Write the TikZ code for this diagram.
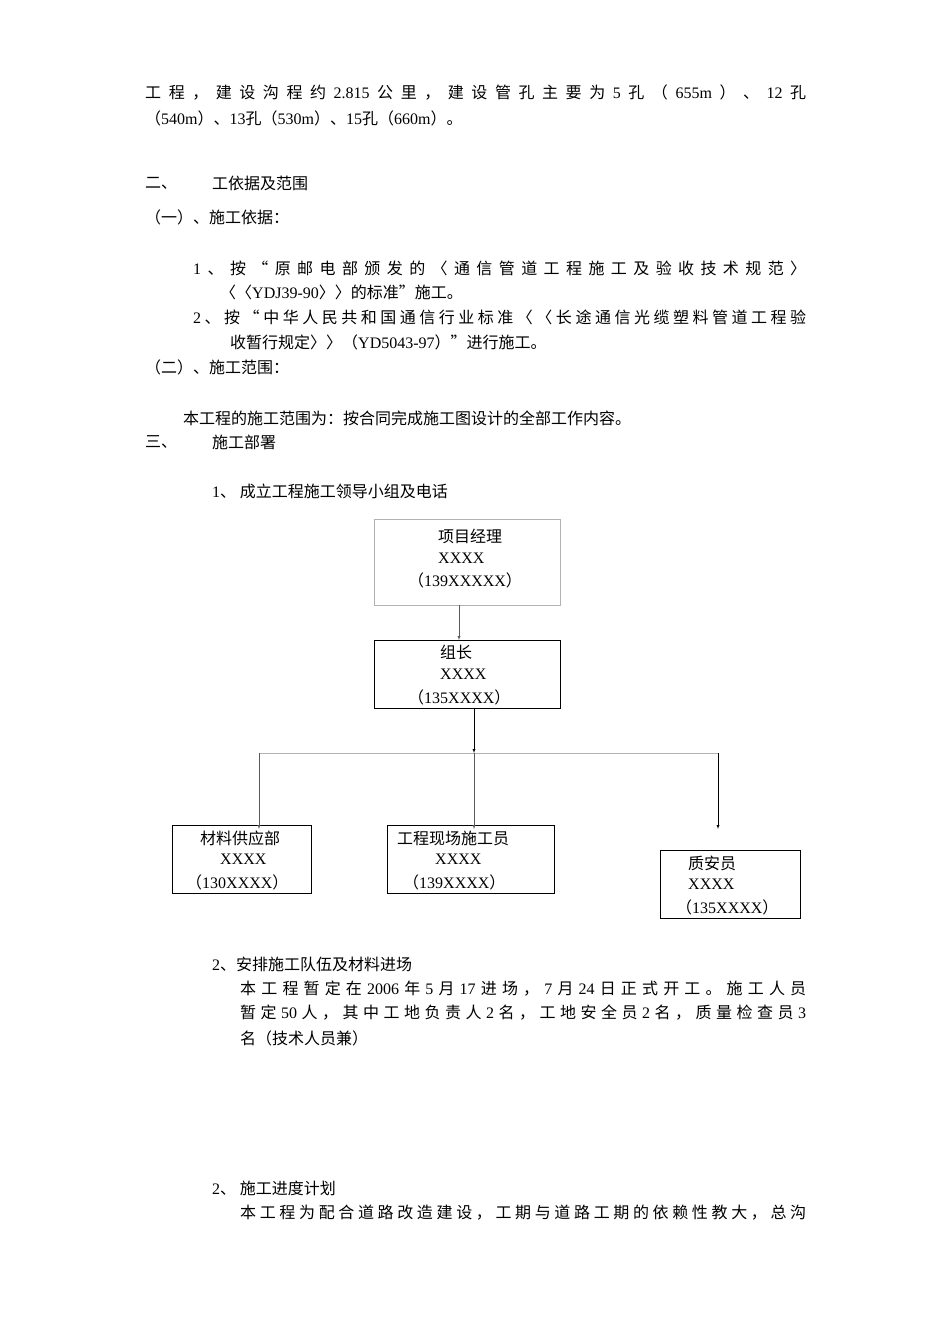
\documentclass[tikz,border=0pt]{standalone}
\usepackage{fontspec}
\setmainfont{Noto Sans CJK SC}
\newfontfamily\lat{Liberation Serif}
\ExplSyntaxOn
\NewDocumentCommand\spreadtext{mm}{\makebox[#1][s]{\tl_map_inline:nn{#2}{{##1}\hfil}\unskip}}
\ExplSyntaxOff
\begin{document}
\begin{tikzpicture}[x=1pt,y=-1pt,
  t/.style={anchor=west,inner sep=0pt,font=\fontsize{16}{18}\selectfont},
  bx/.style={draw,line width=0.6pt},
  ar/.style={-latex,line width=0.4pt,gray!70!black}]
\useasboundingbox[fill=white](0,0) rectangle (950,1344);
\node[t] (l1) at (145,93) {\spreadtext{661pt}{工程，建设沟程约{\lat 2.815}公里，建设管孔主要为{\lat 5}孔（{\lat 655m}）、{\lat 12}孔}};
\node[t] (l2) at (145,118) {（{\lat 540m}）、{\lat 13}孔（{\lat 530m}）、{\lat 15}孔（{\lat 660m}）。};
\node[t] (l3) at (145,183) {二、};
\node[t] (l3b) at (212,183) {工依据及范围};
\node[t] (l4) at (145,217) {（一）、施工依据：};
\node[t] (l5) at (193,268) {\spreadtext{613pt}{{\lat 1}、按“原邮电部颁发的〈通信管道工程施工及验收技术规范〉}};
\node[t] (l6) at (220,292) {〈〈{\lat YDJ39-90}〉〉的标准”施工。};
\node[t] (l7) at (193,317) {\spreadtext{613pt}{{\lat 2}、按“中华人民共和国通信行业标准〈〈长途通信光缆塑料管道工程验}};
\node[t] (l8) at (230,342) {收暂行规定〉〉（{\lat YD5043-97}）”进行施工。};
\node[t] (l9) at (145,367) {（二）、施工范围：};
\node[t] (l10) at (183,418) {本工程的施工范围为：按合同完成施工图设计的全部工作内容。};
\node[t] (l11) at (145,442) {三、};
\node[t] (l11b) at (212,442) {施工部署};
\node[t] (l12) at (212,491) {{\lat 1}、 成立工程施工领导小组及电话};
% boxes
\draw[bx,gray!60] (374,519) rectangle (560,605);
\node[t] (b1a) at (438,536) {项目经理};
\node[t] (b1b) at (438,558) {\lat XXXX};
\node[t] (b1c) at (408,580) {（{\lat 139XXXXX}）};
\draw[bx] (374,640) rectangle (560,708);
\node[t] (b2a) at (440,652) {组长};
\node[t] (b2b) at (440,674) {\lat XXXX};
\node[t] (b2c) at (408,697) {（{\lat 135XXXX}）};
\draw[bx] (172,825) rectangle (311,893);
\node[t] (b3a) at (200,838) {材料供应部};
\node[t] (b3b) at (220,859) {\lat XXXX};
\node[t] (b3c) at (186,882) {（{\lat 130XXXX}）};
\draw[bx] (387,825) rectangle (554,893);
\node[t] (b4a) at (397,838) {工程现场施工员};
\node[t] (b4b) at (435,859) {\lat XXXX};
\node[t] (b4c) at (403,882) {（{\lat 139XXXX}）};
\draw[bx] (660,850) rectangle (800,918);
\node[t] (b5a) at (688,863) {质安员};
\node[t] (b5b) at (688,884) {\lat XXXX};
\node[t] (b5c) at (676,907) {（{\lat 135XXXX}）};
\coordinate (p1) at (459,605); \coordinate (p2) at (459,640);
\draw[ar] (p1) -- (p2);
\coordinate (q1) at (474,708); \coordinate (q2) at (474,753);
\draw[-latex,line width=0.4pt] (q1) -- (q2);
\draw[line width=0.4pt,gray!60] (259,753) -- (718,753);
\draw[ar] (259,753) -- (259,829);
\draw[ar] (474,753) -- (474,829);
\draw[ar,black] (718,753) -- (718,829);
\node[t] (m1) at (212,964) {{\lat 2}、安排施工队伍及材料进场};
\node[t] (m2) at (240,989) {\spreadtext{566pt}{本工程暂定在{\lat 2006}年{\lat 5}月{\lat 17}进场，{\lat 7}月{\lat 24}日正式开工。施工人员}};
\node[t] (m3) at (240,1013) {\spreadtext{566pt}{暂定{\lat 50}人，其中工地负责人{\lat 2}名，工地安全员{\lat 2}名，质量检查员{\lat 3}}};
\node[t] (m4) at (240,1038) {名（技术人员兼）};
\node[t] (n1) at (212,1188) {{\lat 2}、 施工进度计划};
\node[t] (n2) at (240,1213) {\spreadtext{566pt}{本工程为配合道路改造建设，工期与道路工期的依赖性教大，总沟}};
\end{tikzpicture}
\end{document}
